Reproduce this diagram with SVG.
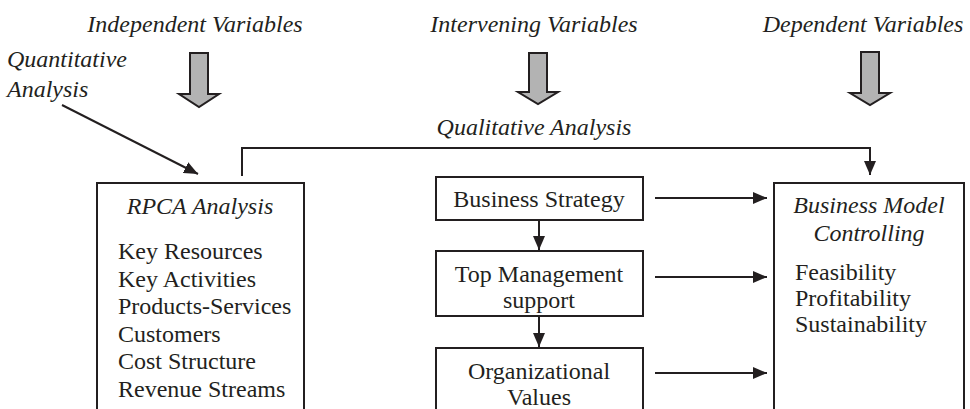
<svg xmlns="http://www.w3.org/2000/svg" width="970" height="409" viewBox="0 0 970 409">
<style>
text{font-family:'Liberation Serif','Times New Roman',Times,serif;font-size:24px;fill:#231f20}
.it{font-style:italic}
.box{fill:#fff;stroke:#231f20;stroke-width:2}
.big{fill:#b3b3b3;stroke:#231f20;stroke-width:2;stroke-linejoin:miter}
.ln{fill:none;stroke:#231f20;stroke-width:2}
</style>
<defs>
<marker id="ah" viewBox="0 0 14 12" refX="14" refY="6" markerWidth="14" markerHeight="12" orient="auto" markerUnits="userSpaceOnUse">
<path d="M0,0 L14,6 L0,12 Z" fill="#231f20"/>
</marker>
</defs>
<rect width="970" height="409" fill="#fff"/>
<g id="headers">
<text class="it" x="195" y="32" text-anchor="middle">Independent Variables</text>
<text class="it" x="534" y="32" text-anchor="middle">Intervening Variables</text>
<text class="it" x="863" y="32" text-anchor="middle">Dependent Variables</text>
<polygon class="big" points="190,53 208,53 208,94 219,94 199,107 179,94 190,94"/>
<polygon class="big" points="529,53 547,53 547,92 558,92 538,104 518,92 529,92"/>
<polygon class="big" points="861,52 879,52 879,93 890,93 870,105 850,93 861,93"/>
<text class="it" x="7" y="67">Quantitative</text>
<text class="it" x="7" y="97">Analysis</text>
<text class="it" x="534" y="135" text-anchor="middle">Qualitative Analysis</text>
</g>
<g id="connectors">
<line class="ln" x1="62" y1="105" x2="198" y2="174" marker-end="url(#ah)"/>
<polyline class="ln" points="242,176 242,148 870,148 870,175" marker-end="url(#ah)"/>
<line class="ln" x1="539" y1="220" x2="539" y2="250" marker-end="url(#ah)"/>
<line class="ln" x1="539" y1="316" x2="539" y2="347" marker-end="url(#ah)"/>
<line class="ln" x1="655" y1="198" x2="767" y2="198" marker-end="url(#ah)"/>
<line class="ln" x1="655" y1="277" x2="767" y2="277" marker-end="url(#ah)"/>
<line class="ln" x1="655" y1="373" x2="767" y2="373" marker-end="url(#ah)"/>
</g>
<g id="rpca">
<rect class="box" x="97" y="183" width="207" height="240"/>
<text class="it" x="200" y="214" text-anchor="middle">RPCA Analysis</text>
<text x="118" y="259">Key Resources</text>
<text x="118" y="287">Key Activities</text>
<text x="118" y="314">Products-Services</text>
<text x="118" y="342">Customers</text>
<text x="118" y="369">Cost Structure</text>
<text x="118" y="397">Revenue Streams</text>
</g>
<g id="strategy">
<rect class="box" x="436" y="177" width="207" height="43"/>
<text x="539" y="207" text-anchor="middle">Business Strategy</text>
</g>
<g id="management">
<rect class="box" x="436" y="251" width="207" height="65"/>
<text x="539" y="282" text-anchor="middle">Top Management</text>
<text x="539" y="308" text-anchor="middle">support</text>
</g>
<g id="values">
<rect class="box" x="436" y="348" width="207" height="80"/>
<text x="539" y="379" text-anchor="middle">Organizational</text>
<text x="539" y="405" text-anchor="middle">Values</text>
</g>
<g id="bmc">
<rect class="box" x="774" y="183" width="190" height="240"/>
<text class="it" x="869" y="213" text-anchor="middle">Business Model</text>
<text class="it" x="869" y="241" text-anchor="middle">Controlling</text>
<text x="795" y="280">Feasibility</text>
<text x="795" y="306">Profitability</text>
<text x="795" y="332">Sustainability</text>
</g>
</svg>
